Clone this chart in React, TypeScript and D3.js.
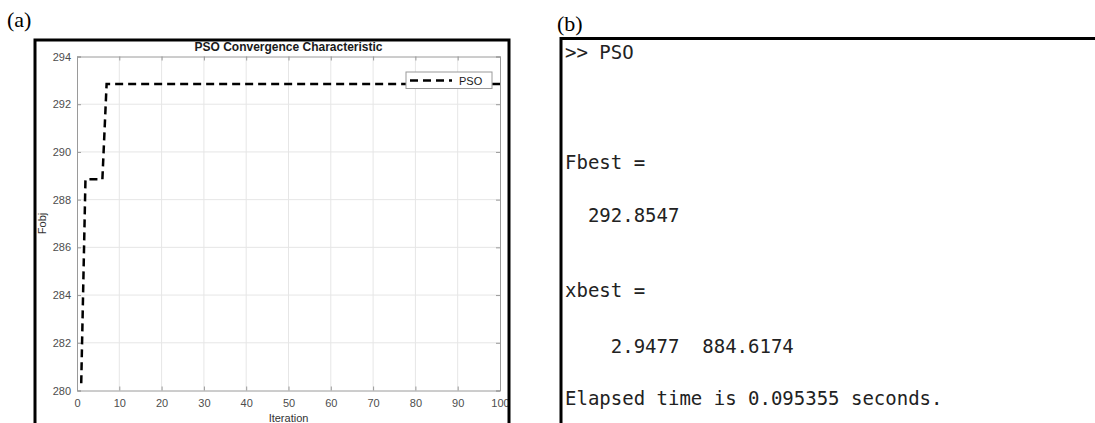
import React, { useEffect, useRef } from 'react';
import * as d3 from 'd3';

// PSO convergence curve (breakpoints of the step curve)
const iterations = [1, 2, 6, 7, 100];
const fobjValues = [280.3, 288.85, 288.85, 292.85, 292.85];

const xTicks = [0, 10, 20, 30, 40, 50, 60, 70, 80, 90, 100];
const yTicks = [280, 282, 284, 286, 288, 290, 292, 294];

// MATLAB command window output shown in panel (b)
const consoleLines = [
    { text: '>> PSO', y: 52 },
    { text: 'Fbest =', y: 162 },
    { text: '  292.8547', y: 215 },
    { text: 'xbest =', y: 290 },
    { text: '    2.9477  884.6174', y: 346 },
    { text: 'Elapsed time is 0.095355 seconds.', y: 398 },
];

export default function App() {
    const svgRef = useRef<SVGSVGElement>(null);

    useEffect(() => {
        const svg = d3.select(svgRef.current);
        svg.selectAll('*').remove();

        const sans = '"Liberation Sans", Arial, sans-serif';
        const margin = { left: 77, right: 500, top: 56.5, bottom: 390.5 };

        const x = d3.scaleLinear().domain([0, 100]).range([margin.left, margin.right]);
        const y = d3.scaleLinear().domain([280, 294]).range([margin.bottom, margin.top]);

        // panel labels
        svg.append('text').attr('x', 7).attr('y', 27)
            .style('font-family', '"Liberation Serif", "Times New Roman", serif')
            .style('font-size', '22px').text('(a)');
        svg.append('text').attr('x', 557).attr('y', 31)
            .style('font-family', '"Liberation Serif", "Times New Roman", serif')
            .style('font-size', '22px').text('(b)');

        // ---- panel (a): convergence plot ----
        const plot = svg.append('g');

        // grid
        plot.append('g').selectAll('line').data(xTicks.slice(1, -1)).enter().append('line')
            .attr('x1', d => x(d)).attr('x2', d => x(d))
            .attr('y1', margin.top).attr('y2', margin.bottom)
            .attr('stroke', '#e6e6e6').attr('stroke-width', 1);
        plot.append('g').selectAll('line').data(yTicks.slice(1, -1)).enter().append('line')
            .attr('x1', margin.left).attr('x2', margin.right)
            .attr('y1', d => y(d)).attr('y2', d => y(d))
            .attr('stroke', '#e6e6e6').attr('stroke-width', 1);

        // axes (inner ticks like MATLAB)
        const xAxis = plot.append('g')
            .attr('transform', `translate(0,${margin.bottom})`)
            .call(d3.axisBottom(x).tickValues(xTicks).tickSize(-4).tickPadding(9));
        const xTop = plot.append('g')
            .attr('transform', `translate(0,${margin.top})`)
            .call(d3.axisTop(x).tickValues(xTicks).tickSize(-4).tickFormat(() => ''));
        const yAxis = plot.append('g')
            .attr('transform', `translate(${margin.left},0)`)
            .call(d3.axisLeft(y).tickValues(yTicks).tickSize(-4).tickPadding(6));
        const yRight = plot.append('g')
            .attr('transform', `translate(${margin.right},0)`)
            .call(d3.axisRight(y).tickValues(yTicks).tickSize(-4).tickFormat(() => ''));

        [xAxis, xTop, yAxis, yRight].forEach(a => {
            a.select('.domain').attr('stroke', '#9a9a9a');
            a.selectAll('.tick line').attr('stroke', '#9a9a9a');
            a.selectAll('text')
                .style('font-family', sans)
                .style('font-size', '11px')
                .attr('fill', '#4d4d4d');
        });

        // convergence line
        const line = d3.line<number>()
            .x((d, i) => x(iterations[i]))
            .y(d => y(d));
        plot.append('path')
            .datum(fobjValues)
            .attr('d', line)
            .attr('fill', 'none')
            .attr('stroke', '#000')
            .attr('stroke-width', 2.5)
            .attr('stroke-dasharray', '8,5');

        // title and axis labels
        plot.append('text')
            .attr('x', (margin.left + margin.right) / 2).attr('y', 51)
            .attr('text-anchor', 'middle')
            .style('font-family', sans).style('font-size', '12px').style('font-weight', 'bold')
            .attr('fill', '#1a1a1a')
            .text('PSO Convergence Characteristic');
        plot.append('text')
            .attr('x', (margin.left + margin.right) / 2).attr('y', 422)
            .attr('text-anchor', 'middle')
            .style('font-family', sans).style('font-size', '11px')
            .attr('fill', '#333')
            .text('Iteration');
        plot.append('text')
            .attr('transform', `translate(46,${(margin.top + margin.bottom) / 2})rotate(-90)`)
            .attr('text-anchor', 'middle')
            .style('font-family', sans).style('font-size', '11px')
            .attr('fill', '#333')
            .text('Fobj');

        // legend
        const legend = plot.append('g').attr('transform', 'translate(406,72)');
        legend.append('rect')
            .attr('width', 86).attr('height', 16.5)
            .attr('fill', '#fff').attr('stroke', '#9a9a9a').attr('stroke-width', 1);
        legend.append('line')
            .attr('x1', 4).attr('x2', 46).attr('y1', 8.5).attr('y2', 8.5)
            .attr('stroke', '#000').attr('stroke-width', 2.5)
            .attr('stroke-dasharray', '8,5');
        legend.append('text')
            .attr('x', 53).attr('y', 12.5)
            .style('font-family', sans).style('font-size', '11px')
            .attr('fill', '#1a1a1a')
            .text('PSO');

        // frame (a)
        svg.append('rect')
            .attr('x', 35).attr('y', 40).attr('width', 474).attr('height', 400)
            .attr('fill', 'none').attr('stroke', '#000').attr('stroke-width', 3);

        // ---- panel (b): console output ----
        svg.append('rect')
            .attr('x', 561).attr('y', 38.5).attr('width', 560).attr('height', 400)
            .attr('fill', 'none').attr('stroke', '#000').attr('stroke-width', 3);

        svg.append('g').selectAll('text').data(consoleLines).enter().append('text')
            .attr('x', 565)
            .attr('y', d => d.y)
            .attr('dy', '0.35em')
            .style('font-family', '"DejaVu Sans Mono", "Liberation Mono", monospace')
            .style('font-size', '19px')
            .style('white-space', 'pre')
            .attr('fill', '#222')
            .text(d => d.text);
    }, []);

    return (
        <svg
            ref={svgRef}
            width={1095}
            height={423}
            style={{ position: 'absolute', left: 0, top: 0, background: '#fff' }}
        />
    );
}
